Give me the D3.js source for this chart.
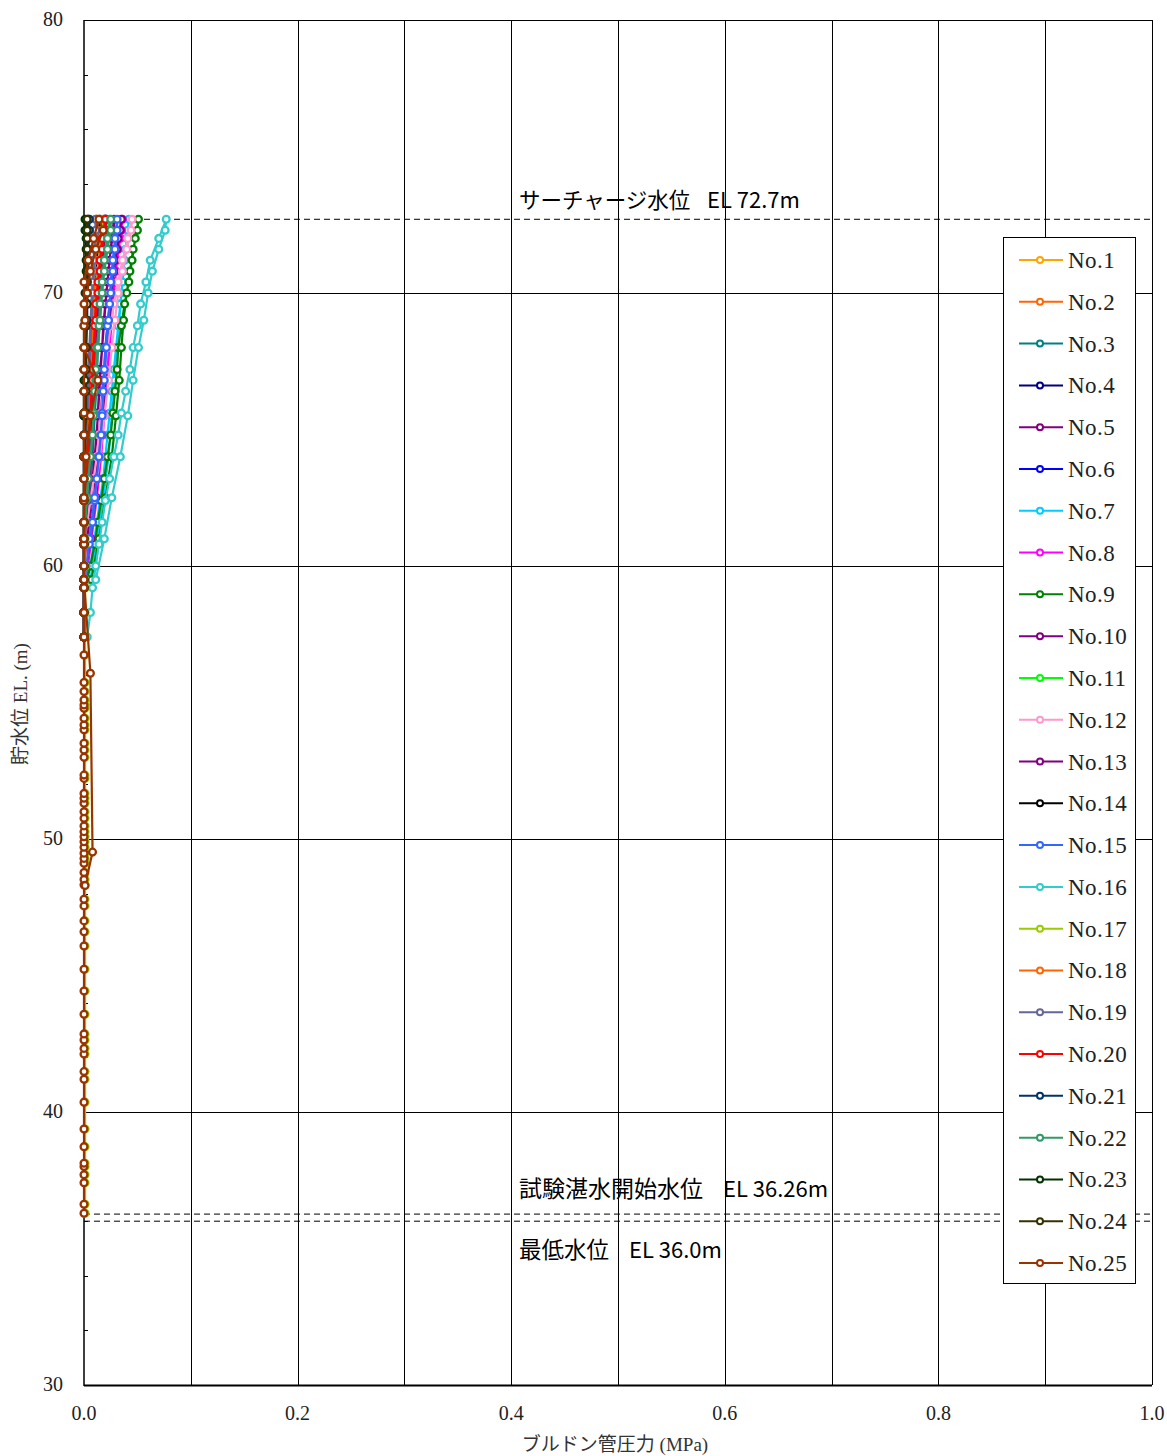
<!DOCTYPE html>
<html><head><meta charset="utf-8">
<script src="https://cdn.jsdelivr.net/npm/d3@7"></script>
<style>
html,body{margin:0;padding:0;background:#fff;}
svg{display:block;}
text{white-space:pre;}
</style>
</head><body>
<svg id="chart" width="1167" height="1456"></svg>
<script>
// ---------------- DATA ----------------
const seriesNames = ["No.1","No.2","No.3","No.4","No.5","No.6","No.7","No.8","No.9","No.10","No.11","No.12","No.13","No.14","No.15","No.16","No.17","No.18","No.19","No.20","No.21","No.22","No.23","No.24","No.25"];
const seriesColors = ["#FFA500","#FF6600","#008080","#000080","#800080","#0000FF","#00CCFF","#FF00FF","#008000","#800080","#00FF00","#FF99CC","#800080","#000000","#3366FF","#33CCCC","#99CC00","#FF6600","#666699","#FF0000","#003366","#339966","#003300","#333300","#993300"];

const xTicks = [0.0,0.2,0.4,0.6,0.8,1.0];
const yTicks = [30,40,50,60,70,80];

// water levels during the early filling (only No.17 and No.25 visible there)
const elevLow = [36.29,36.62,37.41,37.70,38.00,38.12,38.73,39.38,40.36,41.20,41.48,42.12,42.33,42.64,42.86,43.58,44.43,45.23,46.08,46.60,47.00,47.55,47.79,48.32,48.52,48.77,49.11,49.29,49.48,49.70,49.90,50.08,50.27,50.48,50.76,51.00,51.31,51.49,51.67,52.22,52.34,52.99,53.26,53.51,54.00,54.18,54.42,54.79,54.91,55.09,55.40,55.73,56.74];
const lowP17 = [0.001,0.001,0.001,0.001,0.001,0.001,0.001,0.001,0.001,0.001,0.001,0.001,0.001,0.001,0.001,0.001,0.001,0.001,0.001,0.001,0.001,0.001,0.001,0.001,0.001,0.001,0.001,0.001,0.001,0.001,0.001,0.001,0.001,0.001,0.001,0.001,0.001,0.001,0.001,0.001,0.001,0.001,0.001,0.001,0.001,0.001,0.001,0.001,0.001,0.001,0.001,0.001,0.001];
const lowP25 = [0,0,0,0,0,0,0,0,0,0,0,0,0,0,0,0,0,0,0,0,0,0,0,0,0,0,0,0,0,0,0,0,0,0,0,0,0,0,0,0,0,0,0,0,0,0,0,0,0,0,0,0,0];

// rising phase up to surcharge level
const elevRise = [57.4,58.3,59.2,60.0,60.8,61.6,62.4,63.2,64.0,64.8,65.6,66.4,67.2,68.0,68.8,69.6,70.4,71.2,72.0,72.7];
// falling phase after surcharge level
const elevFall = [72.3,71.6,70.8,70.0,69.0,68.0,66.8,65.5,64.0,62.5,61.0,59.5];

const rise1  = [0,0,0,0,0,0,0,0,0.001,0.002,0.003,0.004,0.005,0.006,0.007,0.008,0.009,0.010,0.011,0.012];
const rise2  = [0,0,0,0,0,0,0.001,0.003,0.005,0.006,0.007,0.008,0.009,0.010,0.011,0.012,0.013,0.015,0.017,0.019];
const rise3  = [0,0,0,0,0,0.002,0.004,0.006,0.008,0.009,0.010,0.011,0.012,0.013,0.014,0.015,0.016,0.017,0.019,0.021];
const rise4  = [0,0,0,0,0,0,0,0.001,0.002,0.003,0.004,0.005,0.006,0.007,0.008,0.009,0.010,0.011,0.013,0.015];
const rise5  = [0,0,0,0,0,0.003,0.006,0.008,0.010,0.012,0.013,0.014,0.015,0.017,0.018,0.020,0.022,0.024,0.026,0.028];
const rise6  = [0,0,0,0,0,0,0.002,0.004,0.006,0.007,0.008,0.009,0.010,0.011,0.012,0.013,0.014,0.016,0.018,0.020];
const rise7  = [0,0,0,0.006,0.009,0.012,0.015,0.018,0.020,0.022,0.024,0.026,0.028,0.030,0.032,0.034,0.036,0.038,0.040,0.042];
const rise8  = [0,0,0,0,0.004,0.007,0.010,0.013,0.015,0.017,0.018,0.019,0.020,0.022,0.024,0.026,0.029,0.031,0.034,0.036];
const rise9  = [0,0,0.001,0.006,0.010,0.013,0.016,0.019,0.022,0.025,0.027,0.029,0.031,0.032,0.035,0.038,0.042,0.045,0.048,0.051];
const rise10 = [0,0,0,0,0.002,0.006,0.009,0.011,0.013,0.014,0.016,0.017,0.019,0.020,0.022,0.024,0.026,0.029,0.032,0.035];
const rise11 = [0,0,0,0,0,0,0,0.002,0.005,0.007,0.008,0.009,0.010,0.011,0.013,0.014,0.016,0.018,0.021,0.024];
const rise12 = [0,0,0,0,0,0.003,0.006,0.009,0.012,0.014,0.016,0.018,0.020,0.022,0.025,0.028,0.032,0.036,0.041,0.045];
const rise13 = [0,0,0,0,0,0.001,0.003,0.005,0.006,0.007,0.008,0.009,0.010,0.011,0.012,0.013,0.015,0.016,0.018,0.020];
const rise14 = [0,0,0,0,0,0,0,0,0,0,0,0,0,0.001,0.001,0.002,0.002,0.003,0.003,0.004];
const rise15 = [0,0,0,0.002,0.005,0.008,0.010,0.012,0.014,0.016,0.017,0.018,0.019,0.020,0.022,0.024,0.025,0.027,0.029,0.031];
const rise16 = [0.003,0.006,0.008,0.011,0.014,0.017,0.020,0.024,0.028,0.032,0.035,0.039,0.043,0.046,0.050,0.053,0.058,0.062,0.070,0.077];
const rise17 = [0.001,0.001,0.001,0.001,0.001,0.001,0.001,0.002,0.003,0.003,0.004,0.005,0.006,0.007,0.008,0.010,0.012,0.014,0.016,0.018];
const rise18 = [0,0,0,0,0,0,0,0,0.001,0.002,0.003,0.004,0.005,0.006,0.007,0.008,0.009,0.010,0.011,0.012];
const rise19 = [0,0,0,0,0,0,0,0,0,0.001,0.002,0.003,0.004,0.005,0.006,0.007,0.008,0.009,0.010,0.011];
const rise20 = [0,0,0,0,0,0,0.001,0.002,0.004,0.005,0.006,0.007,0.008,0.009,0.010,0.011,0.013,0.015,0.017,0.020];
const rise21 = [0,0,0,0,0,0,0,0,0,0,0,0.001,0.001,0.002,0.002,0.003,0.003,0.004,0.004,0.005];
const rise22 = [0,0,0,0,0,0,0.002,0.004,0.006,0.008,0.009,0.010,0.011,0.012,0.014,0.015,0.017,0.019,0.022,0.025];
const rise23 = [0,0,0,0,0,0,0,0,0,0,0,0,0,0,0,0.001,0.001,0.002,0.002,0.001];
const rise24 = [0,0,0,0,0,0,0,0,0.001,0.001,0.002,0.002,0.002,0.002,0.002,0.003,0.003,0.003,0.003,0.003];
const rise25 = [0,0,0,0,0,0,0,0,0,0,0,0,0,0,0,0,0,0.004,0.009,0.014];

const fall1  = [0.012,0.010,0.009,0.008,0.007,0.006,0.005,0.003,0.001,0,0,0];
const fall2  = [0.019,0.017,0.015,0.013,0.012,0.010,0.009,0.007,0.004,0.001,0,0];
const fall3  = [0.021,0.019,0.017,0.016,0.015,0.013,0.012,0.010,0.008,0.005,0.002,0];
const fall4  = [0.015,0.013,0.011,0.010,0.009,0.008,0.007,0.005,0.003,0.001,0,0];
const fall5  = [0.028,0.025,0.023,0.021,0.019,0.017,0.015,0.013,0.010,0.007,0.003,0];
const fall6  = [0.019,0.017,0.015,0.013,0.012,0.011,0.009,0.007,0.005,0.002,0,0];
const fall7  = [0.041,0.039,0.037,0.035,0.033,0.031,0.029,0.026,0.023,0.018,0.012,0.006];
const fall8  = [0.035,0.032,0.030,0.028,0.026,0.024,0.022,0.019,0.016,0.012,0.007,0.002];
const fall9  = [0.050,0.046,0.043,0.040,0.037,0.035,0.033,0.030,0.026,0.020,0.014,0.007];
const fall10 = [0.034,0.031,0.028,0.026,0.024,0.022,0.020,0.018,0.015,0.011,0.006,0];
const fall11 = [0.023,0.020,0.018,0.016,0.014,0.012,0.010,0.008,0.005,0.002,0,0];
const fall12 = [0.044,0.040,0.036,0.032,0.029,0.026,0.023,0.019,0.015,0.010,0.005,0];
const fall13 = [0.020,0.018,0.016,0.014,0.013,0.012,0.010,0.008,0.006,0.003,0.001,0];
const fall14 = [0.004,0.003,0.003,0.002,0.002,0.001,0.001,0,0,0,0,0];
const fall15 = [0.031,0.029,0.027,0.025,0.023,0.021,0.019,0.017,0.014,0.010,0.005,0.001];
const fall16 = [0.076,0.070,0.064,0.060,0.056,0.051,0.046,0.041,0.034,0.026,0.019,0.011];
const fall17 = [0.017,0.015,0.013,0.011,0.009,0.008,0.006,0.004,0.002,0.001,0.001,0.001];
const fall18 = [0.012,0.011,0.010,0.009,0.008,0.007,0.006,0.005,0.003,0.001,0,0];
const fall19 = [0.011,0.010,0.009,0.008,0.007,0.006,0.005,0.003,0.001,0,0,0];
const fall20 = [0.020,0.017,0.015,0.013,0.011,0.010,0.008,0.006,0.004,0.001,0,0];
const fall21 = [0.005,0.004,0.004,0.003,0.003,0.002,0.001,0,0,0,0,0];
const fall22 = [0.025,0.022,0.019,0.017,0.015,0.013,0.011,0.009,0.006,0.003,0,0];
const fall23 = [0.001,0.002,0.002,0.001,0.001,0,0,0,0,0,0,0];
const fall24 = [0.003,0.003,0.003,0.002,0.002,0.002,0.001,0.001,0,0,0,0];
const fall25 = [0.018,0.011,0.006,0.003,0.001,0,0.013,0.006,0.002,0,0,0];

// No.25 final part of drawdown
const tailElev25 = [56.07,49.52,48.30];
const tailP25 = [0.006,0.008,0.001];

const riseP = [rise1,rise2,rise3,rise4,rise5,rise6,rise7,rise8,rise9,rise10,rise11,rise12,rise13,rise14,rise15,rise16,rise17,rise18,rise19,rise20,rise21,rise22,rise23,rise24,rise25];
const fallP = [fall1,fall2,fall3,fall4,fall5,fall6,fall7,fall8,fall9,fall10,fall11,fall12,fall13,fall14,fall15,fall16,fall17,fall18,fall19,fall20,fall21,fall22,fall23,fall24,fall25];

const refLevels = [72.7, 36.26, 36.0];
const refNames = ["サーチャージ水位", "試験湛水開始水位", "最低水位"];
const refElLabels = ["EL 72.7m", "EL 36.26m", "EL 36.0m"];

// ---------------- CHART ----------------
const svg = d3.select("#chart");
const X0 = 84, X1 = 1152, Y0 = 20, Y1 = 1385;
const x = d3.scaleLinear().domain([0,1]).range([X0,X1]);
const y = d3.scaleLinear().domain([30,80]).range([Y1,Y0]);

const serif = "'Liberation Serif','DejaVu Serif','Noto Sans CJK JP',serif";
const sans = "'Noto Sans CJK JP','Noto Sans',sans-serif";

// grid
const grid = svg.append("g");
grid.selectAll("line.vx").data(d3.range(1,11).map(i=>i/10)).join("line")
  .attr("x1",d=>Math.round(x(d))+0.5).attr("x2",d=>Math.round(x(d))+0.5)
  .attr("y1",Y0).attr("y2",Y1).attr("stroke","#000").attr("stroke-width",1);
grid.selectAll("line.hy").data([40,50,60,70,80]).join("line")
  .attr("x1",X0).attr("x2",X1)
  .attr("y1",d=>Math.round(y(d))+0.5).attr("y2",d=>Math.round(y(d))+0.5)
  .attr("stroke","#000").attr("stroke-width",1);

// minor ticks on y axis (inside)
grid.selectAll("line.mt").data(d3.range(32,80,2).filter(v=>v%10!==0)).join("line")
  .attr("x1",X0).attr("x2",X0+4)
  .attr("y1",d=>Math.round(y(d))+0.5).attr("y2",d=>Math.round(y(d))+0.5)
  .attr("stroke","#000").attr("stroke-width",1);

// axes frame
svg.append("line").attr("x1",X0).attr("x2",X0).attr("y1",Y0).attr("y2",Y1+1).attr("stroke","#000").attr("stroke-width",1.5);
svg.append("line").attr("x1",X0).attr("x2",X1).attr("y1",Y1+0.5).attr("y2",Y1+0.5).attr("stroke","#000").attr("stroke-width",2);

// reference lines
const refG = svg.append("g");
refLevels.forEach(el=>{
  refG.append("line").attr("x1",X0).attr("x2",X1)
    .attr("y1",y(el)).attr("y2",y(el))
    .attr("stroke","#000").attr("stroke-width",1).attr("stroke-dasharray","6,4");
});
const annDy = [-11,-17,37];
const annSize = [21.5,23,22.5];
const annElX = [707,723,629];
refLevels.forEach((el,i)=>{
  const t = refG.append("text").attr("y",y(el)+annDy[i])
    .attr("font-family",sans).attr("font-size",annSize[i]).attr("fill","#000");
  t.append("tspan").attr("x",519).text(refNames[i]);
  t.append("tspan").attr("x",annElX[i]).attr("font-size",22).text(refElLabels[i]);
});

// build series
const series = seriesNames.map((name,i)=>{
  let pts = [];
  if (i===16) elevLow.forEach((e,k)=>pts.push({p:lowP17[k], e}));
  if (i===24) elevLow.forEach((e,k)=>pts.push({p:lowP25[k], e}));
  elevRise.forEach((e,k)=>pts.push({p:riseP[i][k], e}));
  elevFall.forEach((e,k)=>pts.push({p:fallP[i][k], e}));
  if (i===24) tailElev25.forEach((e,k)=>pts.push({p:tailP25[k], e}));
  return {name, color:seriesColors[i], pts};
});

const line = d3.line().x(d=>x(d.p)).y(d=>y(d.e));
const plotG = svg.append("g");
series.forEach(s=>{
  const g = plotG.append("g");
  g.append("path").attr("d",line(s.pts)).attr("fill","none")
    .attr("stroke",s.color).attr("stroke-width",2.2);
  g.selectAll("circle").data(s.pts).join("circle")
    .attr("cx",d=>x(d.p)).attr("cy",d=>y(d.e)).attr("r",3.4)
    .attr("fill","#fff").attr("stroke",s.color).attr("stroke-width",2.3);
});

// tick labels
svg.append("g").selectAll("text").data(yTicks).join("text")
  .attr("x",63).attr("y",d=>y(d)+6).attr("text-anchor","end")
  .attr("font-family",serif).attr("font-size",20).attr("fill","#222")
  .text(d=>d);
svg.append("g").selectAll("text").data(xTicks).join("text")
  .attr("x",d=>x(d)).attr("y",1420).attr("text-anchor","middle")
  .attr("font-family",serif).attr("font-size",20).attr("fill","#222")
  .text(d=>d.toFixed(1));

// axis titles
svg.append("text").attr("transform","translate(27,704) rotate(-90)")
  .attr("text-anchor","middle").attr("font-family",serif).attr("font-size",19).attr("fill","#333")
  .text("貯水位 EL. (m)");
svg.append("text").attr("x",615).attr("y",1451)
  .attr("text-anchor","middle").attr("font-family",serif).attr("font-size",19).attr("fill","#333")
  .text("ブルドン管圧力 (MPa)");

// legend
const lg = svg.append("g");
lg.append("rect").attr("x",1003.5).attr("y",237.5).attr("width",132).attr("height",1046)
  .attr("fill","#fff").attr("stroke","#000").attr("stroke-width",1);
const legY = d3.scaleLinear().domain([0,24]).range([260,1263]);
series.forEach((s,i)=>{
  const yy = legY(i);
  lg.append("line").attr("x1",1019).attr("x2",1063).attr("y1",yy).attr("y2",yy)
    .attr("stroke",s.color).attr("stroke-width",2);
  lg.append("circle").attr("cx",1040).attr("cy",yy).attr("r",3)
    .attr("fill","#fff").attr("stroke",s.color).attr("stroke-width",2);
  lg.append("text").attr("x",1068).attr("y",yy+8).text(s.name)
    .attr("font-family",serif).attr("font-size",23).attr("letter-spacing",0.5).attr("fill","#222");
});
</script>
</body></html>
